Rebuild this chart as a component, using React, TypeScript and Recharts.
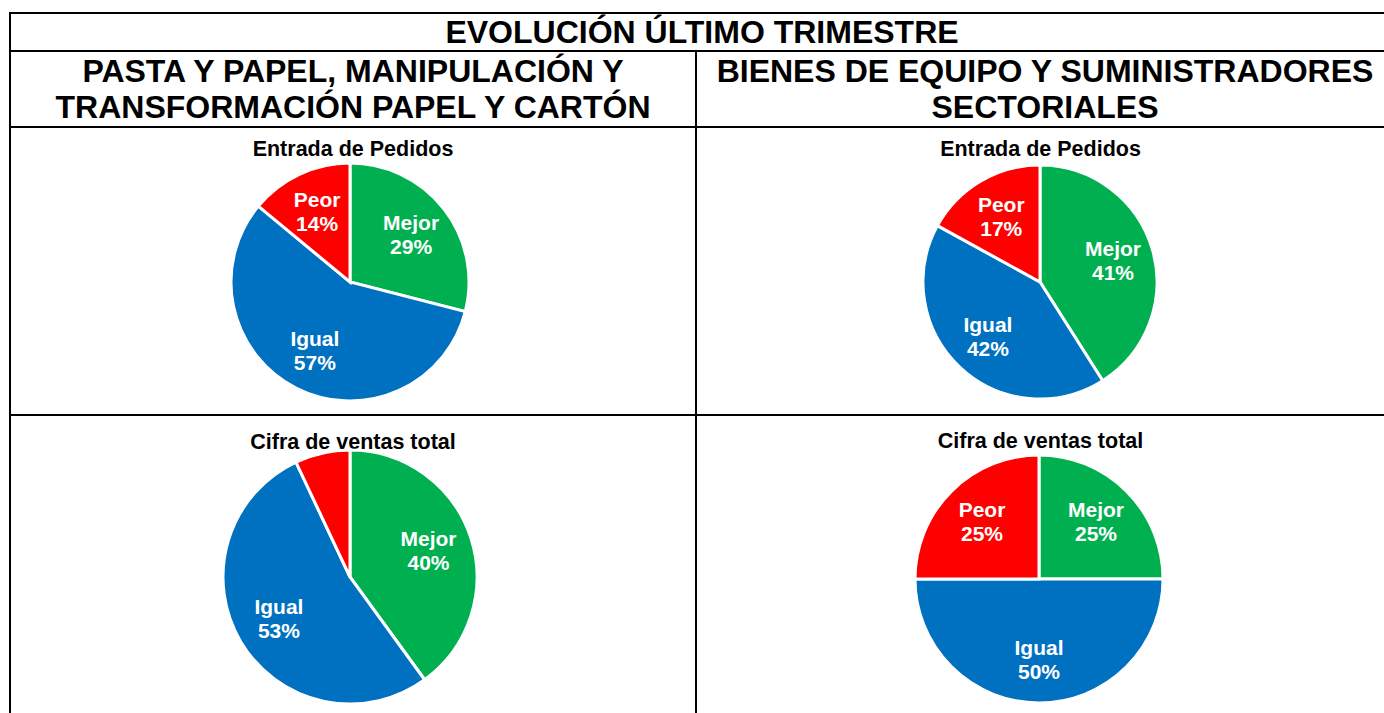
import React from 'react';
import { PieChart, Pie, Cell } from 'recharts';

const FONT = '"Liberation Sans", Arial, Helvetica, sans-serif';

const categories = ['Mejor', 'Igual', 'Peor'];
const sliceColors = ['#00B050', '#0070C0', '#FF0000'];

const pedidosPasta = [29, 57, 14];
const pedidosBienes = [41, 42, 17];
const ventasPasta = [40, 53, 7];
const ventasBienes = [25, 50, 25];

const tableTitle = 'EVOLUCIÓN ÚLTIMO TRIMESTRE';
const headerPasta = ['PASTA Y PAPEL, MANIPULACIÓN Y', 'TRANSFORMACIÓN PAPEL Y CARTÓN'];
const headerBienes = ['BIENES DE EQUIPO Y SUMINISTRADORES', 'SECTORIALES'];
const pedidosTitle = 'Entrada de Pedidos';
const ventasTitle = 'Cifra de ventas total';

const toRows = (values: number[]) =>
  categories.map((name, i) => ({ name, value: values[i] }));

const RADIAN = Math.PI / 180;

const makeLabel = (hidden: string[]) => (props: any) => {
  const { cx, cy, midAngle, outerRadius, value } = props;
  const name = props.payload?.name ?? props.name;
  if (hidden.includes(name)) return null;
  const r = outerRadius * 0.65;
  const x = cx + r * Math.cos(-midAngle * RADIAN);
  const y = cy + r * Math.sin(-midAngle * RADIAN);
  return (
    <text
      x={x}
      y={y - 5}
      fill="#FFFFFF"
      textAnchor="middle"
      fontSize={21}
      fontWeight="bold"
      fontFamily={FONT}
    >
      <tspan x={x} dy={0}>{name}</tspan>
      <tspan x={x} dy={24}>{`${value}%`}</tspan>
    </text>
  );
};

interface PieCellProps {
  left: number;
  top: number;
  width: number;
  height: number;
  cx: number;
  cy: number;
  radius: number;
  title: string;
  titleTop: number;
  values: number[];
  hidden?: string[];
}

function PieBlock({
  left,
  top,
  width,
  height,
  cx,
  cy,
  radius,
  title,
  titleTop,
  values,
  hidden = [],
}: PieCellProps) {
  return (
    <>
      <div
        style={{
          position: 'absolute',
          left,
          top: titleTop,
          width,
          textAlign: 'center',
          fontFamily: FONT,
          fontWeight: 'bold',
          fontSize: 21.5,
          lineHeight: '24px',
          color: '#000',
        }}
      >
        {title}
      </div>
      <div style={{ position: 'absolute', left, top }}>
        <PieChart width={width} height={height} margin={{ top: 0, right: 0, bottom: 0, left: 0 }}>
          <Pie
            data={toRows(values)}
            dataKey="value"
            nameKey="name"
            cx={cx}
            cy={cy}
            outerRadius={radius}
            startAngle={90}
            endAngle={-270}
            stroke="#FFFFFF"
            strokeWidth={3}
            labelLine={false}
            label={makeLabel(hidden)}
            isAnimationActive={false}
          >
            {values.map((_, i) => (
              <Cell key={`cell-${i}`} fill={sliceColors[i]} />
            ))}
          </Pie>
        </PieChart>
      </div>
    </>
  );
}

const line = (left: number, top: number, width: number, height: number) => (
  <div style={{ position: 'absolute', left, top, width, height, background: '#000' }} />
);

export default function App() {
  const headerStyle: React.CSSProperties = {
    position: 'absolute',
    textAlign: 'center',
    fontFamily: FONT,
    fontWeight: 'bold',
    fontSize: 32,
    lineHeight: '36px',
    color: '#000',
    whiteSpace: 'nowrap',
  };

  return (
    <div
      style={{
        position: 'absolute',
        left: 0,
        top: 0,
        width: 1384,
        height: 713,
        overflow: 'hidden',
        background: '#fff',
      }}
    >
      {line(9, 12, 1400, 2)}
      {line(9, 50, 1400, 2)}
      {line(9, 126, 1400, 2)}
      {line(9, 414, 1400, 2)}
      {line(9, 12, 2, 713)}
      {line(695, 50, 2, 713)}

      <div style={{ ...headerStyle, left: 11, top: 14, width: 1382 }}>{tableTitle}</div>
      <div style={{ ...headerStyle, left: 11, top: 53, width: 684 }}>
        {headerPasta[0]}
        <br />
        {headerPasta[1]}
      </div>
      <div style={{ ...headerStyle, left: 697, top: 53, width: 696 }}>
        {headerBienes[0]}
        <br />
        {headerBienes[1]}
      </div>

      <PieBlock
        left={11}
        top={128}
        width={684}
        height={286}
        cx={339}
        cy={154}
        radius={119}
        title={pedidosTitle}
        titleTop={137}
        values={pedidosPasta}
      />
      <PieBlock
        left={697}
        top={128}
        width={687}
        height={286}
        cx={343}
        cy={154}
        radius={117}
        title={pedidosTitle}
        titleTop={137}
        values={pedidosBienes}
      />
      <PieBlock
        left={11}
        top={416}
        width={684}
        height={297}
        cx={339}
        cy={161}
        radius={127}
        title={ventasTitle}
        titleTop={430}
        values={ventasPasta}
        hidden={['Peor']}
      />
      <PieBlock
        left={697}
        top={416}
        width={687}
        height={297}
        cx={342}
        cy={163}
        radius={124}
        title={ventasTitle}
        titleTop={429}
        values={ventasBienes}
      />
    </div>
  );
}
